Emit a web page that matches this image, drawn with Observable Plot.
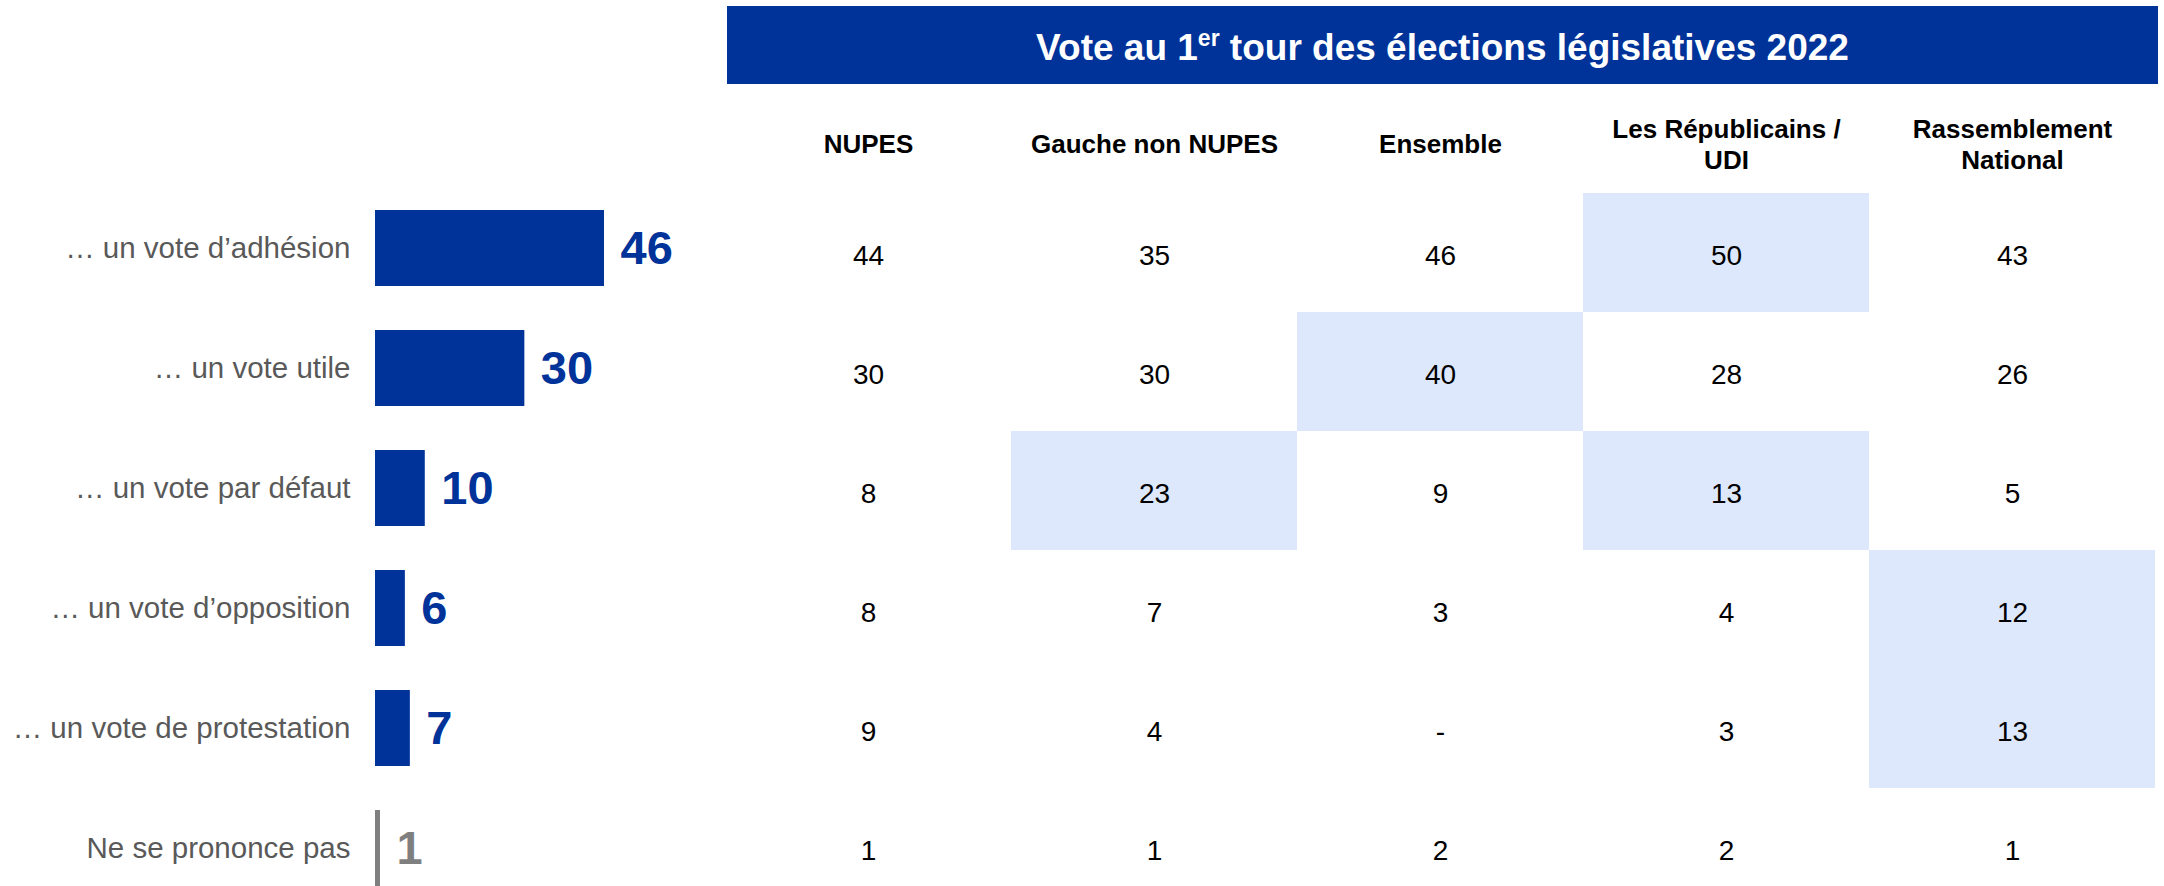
<!DOCTYPE html>
<html lang="fr">
<head>
<meta charset="utf-8">
<script src="https://cdn.jsdelivr.net/npm/d3@7"></script>
<script src="https://cdn.jsdelivr.net/npm/@observablehq/plot@0.6"></script>
<style>
  html, body { margin: 0; padding: 0; background: #ffffff; }
  body { width: 2164px; height: 886px; overflow: hidden; position: relative; font-family: "Liberation Sans", Arial, sans-serif; }
  #left { position: absolute; left: 0; top: 0; }
  #right { position: absolute; left: 725px; top: 0; }
  #banner {
    position: absolute; left: 727px; top: 6px; width: 1431px; height: 78px;
    background: #003399; color: #ffffff; font-weight: bold; font-size: 37px;
    display: flex; align-items: center; justify-content: center; z-index: 2;
  }
  #banner span { position: relative; top: 3px; white-space: nowrap; }
  #banner sup { font-size: 23px; vertical-align: 14px; line-height: 0; }
</style>
</head>
<body>
<div id="left"></div>
<div id="right"></div>
<div id="banner"><span>Vote au 1<sup>er</sup> tour des élections législatives 2022</span></div>
<script>
// ---- Data ----
const categories = [
  "… un vote d’adhésion",
  "… un vote utile",
  "… un vote par défaut",
  "… un vote d’opposition",
  "… un vote de protestation",
  "Ne se prononce pas"
];
const totals = [46, 30, 10, 6, 7, 1];

const parties = [
  "NUPES",
  "Gauche non NUPES",
  "Ensemble",
  "Les Républicains /\nUDI",
  "Rassemblement\nNational"
];
const nupes          = [44, 30,  8,  8,  9, 1];
const gaucheNonNupes = [35, 30, 23,  7,  4, 1];
const ensemble       = [46, 40,  9,  3, null, 2];
const lrUdi          = [50, 28, 13,  4,  3, 2];
const rn             = [43, 26,  5, 12, 13, 1];

// cells shown with a light-blue background: [category, party]
const highlights = [
  ["… un vote d’adhésion", "Les Républicains /\nUDI"],
  ["… un vote utile", "Ensemble"],
  ["… un vote par défaut", "Gauche non NUPES"],
  ["… un vote par défaut", "Les Républicains /\nUDI"],
  ["… un vote d’opposition", "Rassemblement\nNational"],
  ["… un vote de protestation", "Rassemblement\nNational"]
];

// ---- Derived tables ----
const barData = categories.map((c, i) => ({
  cat: c, value: totals[i], color: c === "Ne se prononce pas" ? "#7f7f7f" : "#003399"
}));
const columns = [nupes, gaucheNonNupes, ensemble, lrUdi, rn];
const tableData = categories.flatMap((c, i) =>
  parties.map((p, j) => ({cat: c, party: p, value: columns[j][i]}))
);
const highlightData = highlights.map(([cat, party]) => ({cat, party}));

const font = "'Liberation Sans', Arial, sans-serif";

// ---- Left: bar chart ----
const left = Plot.plot({
  width: 725,
  height: 886,
  marginLeft: 375,
  marginRight: 121,
  marginTop: 0,
  marginBottom: 0,
  style: {fontFamily: font, background: "#ffffff"},
  x: {domain: [0, 46], axis: null},
  y: {domain: categories, range: [185.6, 910.4], paddingInner: 0.3626, paddingOuter: 0.1813, align: 0.5},
  color: {type: "identity"},
  marks: [
    Plot.barX(barData, {x: "value", y: "cat", fill: "color"}),
    Plot.text(barData, {
      x: "value", y: "cat", text: d => String(d.value),
      dx: 16, textAnchor: "start", fontSize: 47, fontWeight: "bold", fill: "color"
    }),
    Plot.axisY({tickSize: 0, tickPadding: 25, fontSize: 29.5, fill: "#595959", label: null})
  ]
});
document.getElementById("left").appendChild(left);

// ---- Right: table ----
const right = Plot.plot({
  width: 1439,
  height: 886,
  marginLeft: 0,
  marginRight: 9,
  marginTop: 193,
  marginBottom: 0,
  style: {fontFamily: font, background: "transparent"},
  x: {domain: parties, padding: 0},
  y: {domain: categories, range: [193, 907], padding: 0, axis: null},
  marks: [
    Plot.cell(highlightData, {x: "party", y: "cat", fill: "#dde8fc"}),
    Plot.text(tableData, {
      x: "party", y: "cat", dy: 3,
      text: d => d.value == null ? "-" : String(d.value),
      fontSize: 28, fill: "#000000"
    }),
    Plot.axisX({
      anchor: "top", tickSize: 0, tickPadding: 50, label: null,
      fontSize: 26, fontWeight: "bold", fill: "#000000",
      lineAnchor: "middle", lineHeight: 1.2
    })
  ]
});
document.getElementById("right").appendChild(right);
</script>
</body>
</html>
